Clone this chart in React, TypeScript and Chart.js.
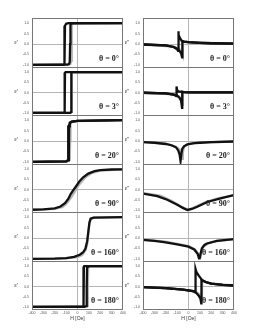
import React, { useEffect, useRef } from "react";
import { Chart, registerables } from "chart.js";
Chart.register(...registerables);

type Pt = [number, number];

const H_TICKS = [-400, -300, -200, -100, 0, 100, 200, 300, 400];
const Y_TICKS = [-1, -0.5, 0, 0.5, 1];
const THETA_LABELS = ["θ = 0°", "θ = 3°", "θ = 20°", "θ = 90°", "θ = 160°", "θ = 180°"];
const X_TITLE = "H [Oe]";
const Y_TITLE_LEFT = "ε'";
const Y_TITLE_RIGHT = "ε''";

// ---- Left column (real part) ----
const real0Desc: Pt[] = [[400, 1], [-80, 1], [-100, 0.97], [-110, 0.88], [-113, 0], [-116, -0.97], [-125, -1], [-400, -1]];
const real0Asc: Pt[] = [[-400, -1], [-90, -0.99], [-75, -0.96], [-68, -0.85], [-65, 0], [-62, 0.95], [-50, 0.99], [400, 1]];
const real0Gray: Pt[] = [[-400, -1], [-80, -0.99], [-62, -0.95], [-55, -0.8], [-52, 0], [-49, 0.9], [-40, 0.98], [-20, 1], [400, 1]];

const real3Desc: Pt[] = [[400, 1], [-105, 1], [-110, 0.97], [-111, -0.97], [-115, -1], [-400, -1]];
const real3Asc: Pt[] = [[-400, -1], [-62, -0.99], [-57, -0.95], [-56, 0.97], [-52, 1], [400, 1]];
const real3Gray: Pt[] = [[-400, -1], [-60, -0.99], [-52, -0.95], [-51, 0.95], [-46, 1], [400, 1]];

const real20Desc: Pt[] = [[400, 1], [0, 0.97], [-50, 0.93], [-65, 0.88], [-75, 0.75], [-80, 0], [-83, -0.9], [-95, -0.97], [-400, -1]];
const real20Asc: Pt[] = [[-400, -1], [-100, -0.97], [-80, -0.92], [-76, -0.6], [-74, 0.7], [-68, 0.88], [-50, 0.93], [0, 0.97], [400, 1]];
const real20Gray: Pt[] = [[-400, -1], [-90, -0.97], [-68, -0.9], [-65, 0], [-62, 0.85], [-50, 0.91], [0, 0.96], [400, 1]];

const real90Main: Pt[] = [[-400, -0.99], [-300, -0.97], [-200, -0.92], [-150, -0.83], [-110, -0.67], [-80, -0.45], [-60, -0.22], [-40, -0.05], [-20, 0.1], [0, 0.26], [20, 0.42], [50, 0.6], [95, 0.78], [150, 0.9], [200, 0.95], [300, 0.98], [400, 0.99]];
const real90Gray: Pt[] = [[-400, -0.99], [-200, -0.95], [-130, -0.85], [-90, -0.65], [-60, -0.42], [-30, -0.15], [0, 0.12], [30, 0.35], [70, 0.6], [120, 0.8], [200, 0.93], [400, 0.99]];

const real160Main: Pt[] = [[-400, -1], [-200, -0.99], [-100, -0.96], [-30, -0.9], [20, -0.8], [50, -0.68], [70, -0.5], [85, -0.15], [95, 0.3], [105, 0.75], [115, 0.93], [140, 0.98], [400, 1]];
const real160Gray: Pt[] = [[-400, -1], [-100, -0.97], [0, -0.92], [40, -0.82], [70, -0.6], [85, -0.3], [95, 0.2], [105, 0.7], [118, 0.92], [150, 0.98], [400, 1]];

const real180Desc: Pt[] = [[400, 1], [60, 1], [56, 0.97], [55, 0], [54, -0.97], [50, -1], [-400, -1]];
const real180Asc: Pt[] = [[-400, -1], [60, -0.99], [75, -0.96], [80, -0.85], [82, 0], [84, 0.96], [90, 1], [400, 1]];
const real180Gray: Pt[] = [[-400, -1], [70, -0.99], [85, -0.95], [90, -0.8], [92, 0], [94, 0.95], [100, 1], [400, 1]];

// ---- Right column (imaginary part) ----
const imag0A: Pt[] = [[-400, -0.02], [-200, -0.06], [-130, -0.14], [-100, -0.25], [-92, -0.32], [-90, 0.62], [-85, 0.45], [-75, 0.28], [-60, 0.16], [-40, 0.12], [0, 0.09], [100, 0.06], [200, 0.04], [400, 0.02]];
const imag0B: Pt[] = [[-400, -0.02], [-200, -0.06], [-130, -0.14], [-100, -0.22], [-80, -0.32], [-65, -0.45], [-56, -0.64], [-54, 0.14], [-40, 0.12], [0, 0.09], [100, 0.06], [200, 0.04], [400, 0.02]];
const imag0Gray: Pt[] = [[-400, -0.02], [-130, -0.12], [-80, -0.25], [-60, -0.4], [-50, -0.55], [-48, 0.12], [-30, 0.1], [0, 0.08], [400, 0.02]];

const imag3A: Pt[] = [[-400, -0.01], [-200, -0.04], [-130, -0.1], [-108, -0.17], [-105, 0.3], [-100, 0.12], [-90, 0.05], [-50, 0.02], [0, 0.01], [400, 0.01]];
const imag3B: Pt[] = [[-400, -0.01], [-200, -0.04], [-130, -0.1], [-100, -0.15], [-80, -0.25], [-65, -0.4], [-57, -0.75], [-55, 0.04], [-40, 0.02], [0, 0.01], [400, 0.01]];
const imag3Gray: Pt[] = [[-400, -0.01], [-130, -0.09], [-80, -0.2], [-60, -0.35], [-52, -0.6], [-50, 0.03], [0, 0.01], [400, 0.01]];

const imag20Main: Pt[] = [[-400, -0.05], [-300, -0.08], [-200, -0.14], [-150, -0.2], [-110, -0.3], [-90, -0.45], [-78, -0.65], [-70, -0.95], [-66, -0.95], [-62, -0.6], [-55, -0.38], [-40, -0.25], [-10, -0.16], [50, -0.1], [100, -0.08], [200, -0.05], [400, -0.02]];
const imag20Gray: Pt[] = [[-400, -0.04], [-200, -0.12], [-120, -0.25], [-80, -0.4], [-60, -0.6], [-55, -0.85], [-50, -0.55], [-40, -0.3], [-20, -0.2], [20, -0.12], [100, -0.07], [400, -0.02]];

const imag90Main: Pt[] = [[-400, -0.2], [-274, -0.32], [-187, -0.5], [-99, -0.74], [-50, -0.9], [-10, -1.0], [30, -0.95], [77, -0.84], [165, -0.61], [282, -0.43], [400, -0.27]];
const imag90Gray: Pt[] = [[-400, -0.18], [-250, -0.3], [-150, -0.55], [-80, -0.78], [-30, -0.93], [10, -0.97], [60, -0.85], [150, -0.62], [250, -0.45], [400, -0.27]];

const imag160Main: Pt[] = [[-400, -0.09], [-300, -0.13], [-215, -0.19], [-100, -0.3], [0, -0.41], [50, -0.55], [80, -0.75], [92, -0.97], [98, -0.97], [108, -0.7], [118, -0.49], [140, -0.33], [162, -0.26], [250, -0.13], [400, -0.05]];
const imag160Gray: Pt[] = [[-400, -0.08], [-200, -0.17], [0, -0.38], [60, -0.55], [90, -0.8], [105, -0.9], [115, -0.6], [130, -0.42], [170, -0.26], [250, -0.14], [400, -0.05]];

const imag180A: Pt[] = [[-400, -0.03], [-200, -0.08], [-50, -0.15], [40, -0.22], [60, -0.28], [62, 0.86], [70, 0.7], [90, 0.53], [120, 0.31], [150, 0.22], [200, 0.14], [300, 0.08], [400, 0.05]];
const imag180B: Pt[] = [[-400, -0.03], [-200, -0.08], [-50, -0.15], [40, -0.22], [70, -0.32], [90, -0.45], [105, -0.6], [112, -0.82], [114, 0.33], [120, 0.31], [150, 0.22], [200, 0.14], [300, 0.08], [400, 0.05]];
const imag180Gray: Pt[] = [[-400, -0.03], [-50, -0.14], [60, -0.25], [100, -0.4], [118, -0.55], [120, 0.3], [150, 0.22], [200, 0.14], [400, 0.05]];

const LEFT_BLACK: Pt[][][] = [[real0Desc, real0Asc], [real3Desc, real3Asc], [real20Desc, real20Asc], [real90Main], [real160Main], [real180Desc, real180Asc]];
const LEFT_GRAY: Pt[][][] = [[real0Gray], [real3Gray], [real20Gray], [real90Gray], [real160Gray], [real180Gray]];
const RIGHT_BLACK: Pt[][][] = [[imag0A, imag0B], [imag3A, imag3B], [imag20Main], [imag90Main], [imag160Main], [imag180A, imag180B]];
const RIGHT_GRAY: Pt[][][] = [[imag0Gray], [imag3Gray], [imag20Gray], [imag90Gray], [imag160Gray], [imag180Gray]];

const ROW_TOPS = [18, 67, 115, 164, 212, 261];
const PLOT_BOTTOM = 309;
const X_AXIS_H = 13;

const COLS = [
  { canvasLeft: 0, canvasWidth: 129, axisW: 32, padRight: 6, yTitle: Y_TITLE_LEFT, black: LEFT_BLACK, gray: LEFT_GRAY },
  { canvasLeft: 121, canvasWidth: 119, axisW: 22, padRight: 6, yTitle: Y_TITLE_RIGHT, black: RIGHT_BLACK, gray: RIGHT_GRAY },
];

const SANS = "'Liberation Sans', Arial, sans-serif";
const SERIF = "'Liberation Serif', 'Times New Roman', serif";

function Panel({ col, row }: { col: number; row: number }) {
  const ref = useRef<HTMLCanvasElement | null>(null);
  const c = COLS[col];
  const isLast = row === ROW_TOPS.length - 1;
  const top = ROW_TOPS[row];
  const plotH = (isLast ? PLOT_BOTTOM : ROW_TOPS[row + 1]) - top;
  const height = plotH + (isLast ? X_AXIS_H : 0);

  useEffect(() => {
    if (!ref.current) return;
    const toData = (pts: Pt[]) => pts.map(([x, y]) => ({ x, y }));
    const datasets: any[] = [];
    c.black[row].forEach((pts) =>
      datasets.push({ data: toData(pts), showLine: true, borderColor: "#111", borderWidth: 2.3, pointRadius: 0, fill: false, tension: 0 })
    );
    c.gray[row].forEach((pts) =>
      datasets.push({ data: toData(pts), showLine: true, borderColor: "#b4b4b4", borderWidth: 2.3, pointRadius: 0, fill: false, tension: 0 })
    );
    const framePlugin = {
      id: "frame" + col + row,
      afterDraw(chart: any) {
        const { ctx, chartArea } = chart;
        const { left, top: t, right, bottom } = chartArea;
        ctx.save();
        ctx.strokeStyle = "#777";
        ctx.lineWidth = 1;
        ctx.strokeRect(Math.round(left) + 0.5, Math.round(t) + 0.5, Math.round(right - left) - 1, Math.round(bottom - t));
        ctx.fillStyle = "#222";
        ctx.font = "bold 8px " + SERIF;
        ctx.textAlign = "right";
        ctx.textBaseline = "middle";
        ctx.fillText(THETA_LABELS[row], right - 4, bottom - 8);
        ctx.font = "6px " + SERIF;
        ctx.textAlign = "center";
        ctx.fillStyle = "#333";
        ctx.fillText(c.yTitle, left - 16, (t + bottom) / 2);
        ctx.restore();
      },
    };
    const noPad = (s: any) => {
      s.paddingTop = 0;
      s.paddingBottom = 0;
      s.paddingLeft = 0;
      s.paddingRight = 0;
    };
    const chart = new Chart(ref.current, {
      type: "scatter",
      data: { datasets },
      options: {
        responsive: false,
        animation: false,
        events: [],
        layout: { padding: { left: 0, right: c.padRight, top: 0, bottom: 0 }, autoPadding: false } as any,
        plugins: { legend: { display: false }, tooltip: { enabled: false } },
        scales: {
          x: {
            type: "linear",
            min: -400,
            max: 400,
            afterBuildTicks: (a: any) => {
              a.ticks = H_TICKS.map((v) => ({ value: v }));
            },
            afterFit: (s: any) => {
              s.height = isLast ? X_AXIS_H : 0;
              noPad(s);
            },
            grid: {
              drawTicks: false,
              color: (ctx: any) => (ctx.tick && ctx.tick.value === 0 ? "#b5b5b5" : "rgba(0,0,0,0)"),
              lineWidth: 1,
            },
            border: { display: false },
            ticks: {
              display: isLast,
              autoSkip: false,
              maxRotation: 0,
              padding: 2,
              color: "#555",
              font: { size: 3.5, family: SANS },
            },
            title: { display: isLast, text: X_TITLE, color: "#333", padding: 0, font: { size: 5, family: SANS } },
          },
          y: {
            type: "linear",
            min: -1.1,
            max: 1.25,
            afterBuildTicks: (a: any) => {
              a.ticks = Y_TICKS.map((v) => ({ value: v }));
            },
            afterFit: (s: any) => {
              s.width = c.axisW;
              noPad(s);
            },
            grid: {
              drawTicks: false,
              color: (ctx: any) => (ctx.tick && ctx.tick.value === 0 ? "#b5b5b5" : "rgba(0,0,0,0)"),
              lineWidth: 1,
            },
            border: { display: false },
            ticks: {
              padding: 3,
              color: "#555",
              font: { size: 3.5, family: SANS },
              callback: (v: any) => Number(v).toFixed(1),
            },
          },
        },
      } as any,
      plugins: [framePlugin],
    });
    return () => chart.destroy();
  }, [col, row]);

  return (
    <canvas
      ref={ref}
      width={c.canvasWidth}
      height={height}
      style={{ position: "absolute", left: c.canvasLeft, top, width: c.canvasWidth, height }}
    />
  );
}

export default function App() {
  return (
    <div style={{ position: "absolute", left: 0, top: 0, width: 269, height: 336, background: "#fff", overflow: "hidden" }}>
      {[0, 1].map((col) => ROW_TOPS.map((_, row) => <Panel key={col + "-" + row} col={col} row={row} />))}
    </div>
  );
}
